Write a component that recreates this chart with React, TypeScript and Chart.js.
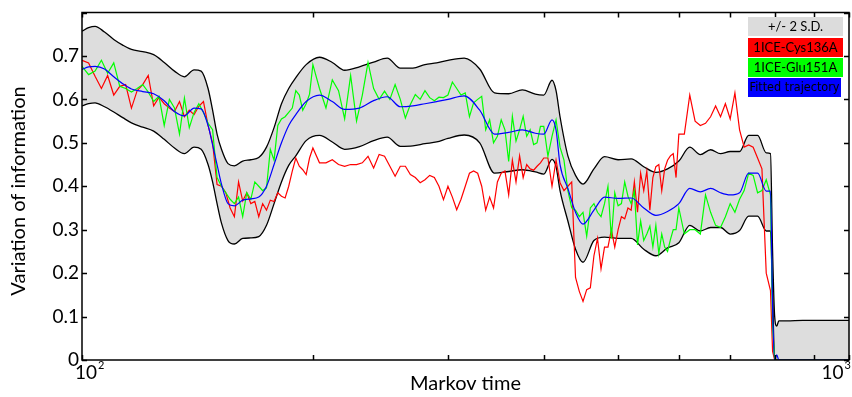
import React, { useEffect, useRef } from "react";
import { Chart, registerables } from "chart.js";

Chart.register(...registerables);

// Markov time grid of the two noisy mutant curves
const markovTime = [
  100, 102, 104, 106, 108, 110, 112, 114, 116, 118, 120, 122, 124, 126, 128, 130, 132, 134, 136, 138,
  140, 142, 144, 146, 148, 150, 152, 154, 156, 158, 160, 162, 164, 166, 168, 170, 172, 174, 176, 178,
  180, 182, 184, 186, 188, 190, 192, 194, 196, 198, 200,
  204, 208, 212, 216, 220, 224, 228, 232, 236, 240, 244, 248, 252, 256, 260, 264, 268, 272, 276, 280,
  284, 288, 292, 296, 300, 304, 308, 312, 316, 320, 324, 328, 332, 336, 340, 344, 348, 352, 356, 360,
  364, 368, 372, 376, 380, 384, 388, 392, 396, 400,
  405, 410, 415, 420, 425, 430, 435, 440, 445, 450, 455, 460, 465, 470, 475, 480, 485, 490, 495, 500,
  505, 510, 515, 520, 525, 530, 535, 540, 545, 550, 555, 560, 565, 570, 575, 580, 585, 590, 595, 600,
  610, 620, 630, 640, 650, 660, 670, 680, 690, 700, 710, 720, 730, 740, 750, 760, 770, 780, 790,
  795, 800, 810, 850, 900, 950, 1000,
];

const cys136a = [
  0.69, 0.684, 0.653, 0.625, 0.655, 0.61, 0.63, 0.634, 0.58, 0.62, 0.634, 0.655, 0.585, 0.605, 0.59, 0.58, 0.572, 0.595, 0.56, 0.575,
  0.565, 0.584, 0.595, 0.54, 0.5, 0.404, 0.4, 0.385, 0.35, 0.33, 0.41, 0.366, 0.385, 0.36, 0.365, 0.33, 0.36, 0.345, 0.368, 0.365,
  0.385, 0.377, 0.373, 0.4, 0.435, 0.465, 0.446, 0.438, 0.427, 0.465, 0.488,
  0.454, 0.454, 0.461, 0.45, 0.446, 0.45, 0.45, 0.454, 0.469, 0.442, 0.473, 0.469, 0.446, 0.423, 0.446, 0.446, 0.427, 0.42, 0.408, 0.415,
  0.425, 0.42, 0.4, 0.369, 0.4, 0.375, 0.346, 0.37, 0.4, 0.43, 0.435, 0.43, 0.4, 0.345, 0.375, 0.35, 0.41, 0.43, 0.435, 0.38,
  0.46, 0.41, 0.47, 0.42, 0.45, 0.44, 0.437, 0.446, 0.454, 0.465,
  0.465, 0.4, 0.46, 0.408, 0.39, 0.4, 0.41, 0.19, 0.158, 0.135, 0.162, 0.166, 0.24, 0.28, 0.21, 0.26, 0.26, 0.3, 0.26, 0.3,
  0.33, 0.325, 0.35, 0.345, 0.41, 0.34, 0.43, 0.39, 0.435, 0.345, 0.42, 0.445, 0.45, 0.39, 0.44, 0.46, 0.47, 0.475, 0.42, 0.52,
  0.52, 0.61, 0.55, 0.54, 0.545, 0.56, 0.585, 0.56, 0.59, 0.555, 0.615, 0.53, 0.49, 0.495, 0.49, 0.465, 0.44, 0.2, 0.16,
  0.02, 0, 0, 0, 0, 0, 0,
];

const glu151a = [
  0.676, 0.657, 0.665, 0.69, 0.66, 0.684, 0.63, 0.625, 0.617, 0.625, 0.634, 0.617, 0.595, 0.607, 0.54, 0.6, 0.58, 0.52, 0.603, 0.535,
  0.57, 0.59, 0.57, 0.545, 0.53, 0.42, 0.4, 0.385, 0.37, 0.36, 0.375, 0.33, 0.385, 0.37, 0.41, 0.4, 0.39, 0.396, 0.485, 0.46,
  0.54, 0.555, 0.56, 0.57, 0.58, 0.62, 0.61, 0.575, 0.59, 0.612, 0.68,
  0.625, 0.58, 0.645, 0.62, 0.555, 0.655, 0.55, 0.61, 0.685, 0.625, 0.6, 0.619, 0.6, 0.634, 0.6, 0.557, 0.588, 0.611, 0.6, 0.62,
  0.604, 0.597, 0.605, 0.604, 0.61, 0.64, 0.625, 0.61, 0.615, 0.56, 0.592, 0.6, 0.607, 0.53, 0.553, 0.5, 0.515, 0.553, 0.53, 0.457,
  0.561, 0.504, 0.53, 0.561, 0.515, 0.53, 0.496, 0.5, 0.538, 0.538,
  0.469, 0.515, 0.553, 0.49, 0.46, 0.39, 0.35, 0.345, 0.33, 0.34, 0.285, 0.35, 0.36, 0.34, 0.33, 0.36, 0.4, 0.28, 0.385, 0.355,
  0.36, 0.41, 0.377, 0.36, 0.39, 0.265, 0.32, 0.275, 0.29, 0.308, 0.26, 0.31, 0.245, 0.29, 0.26, 0.25, 0.277, 0.3, 0.3, 0.35,
  0.29, 0.3, 0.3, 0.29, 0.38, 0.34, 0.31, 0.305, 0.33, 0.36, 0.34, 0.37, 0.39, 0.43, 0.425, 0.385, 0.39, 0.415, 0.38,
  0.08, 0, 0, 0, 0, 0, 0,
];

// Markov time grid of the fitted trajectory and its +/- 2 S.D. band
const bandTime = [
  100, 102, 104, 107, 110, 113, 116, 120, 124, 128, 132, 136, 140, 143, 146, 148, 150, 152, 155, 158,
  162, 166, 170, 174, 178, 182, 186, 190, 196, 204, 212, 220, 230, 240, 250, 260, 270, 280, 290, 300,
  315, 330, 345, 360, 375, 390, 400, 410, 415, 420, 430, 440, 450, 465, 480, 500, 520, 540, 560, 580,
  600, 620, 640, 660, 680, 700, 720, 740, 760, 780, 790, 795, 800, 805, 810, 830, 870, 920, 1000,
];

const bandUpper = [
  0.757, 0.765, 0.768, 0.755, 0.738, 0.725, 0.715, 0.71, 0.703, 0.685, 0.665, 0.652, 0.668, 0.665, 0.625, 0.575, 0.52, 0.485, 0.452, 0.447,
  0.458, 0.461, 0.466, 0.49, 0.535, 0.59, 0.625, 0.65, 0.68, 0.697, 0.685, 0.667, 0.675, 0.686, 0.695, 0.672, 0.672, 0.68, 0.684, 0.69,
  0.695, 0.67, 0.615, 0.613, 0.622, 0.612, 0.61, 0.644, 0.62, 0.56, 0.47, 0.425, 0.405, 0.44, 0.468, 0.461, 0.463, 0.445, 0.432, 0.44,
  0.458, 0.49, 0.473, 0.484, 0.475, 0.48, 0.48, 0.517, 0.517, 0.477, 0.475, 0.25, 0.1, 0.078, 0.09, 0.09, 0.091, 0.091, 0.091,
];

const bandLower = [
  0.585, 0.59, 0.592, 0.583, 0.571, 0.558, 0.546, 0.536, 0.527, 0.508, 0.488, 0.475, 0.49, 0.485, 0.45, 0.41, 0.36, 0.315, 0.275, 0.267,
  0.28, 0.281, 0.284, 0.31, 0.36, 0.41, 0.448, 0.47, 0.505, 0.517, 0.502, 0.485, 0.491, 0.505, 0.513, 0.492, 0.493, 0.498, 0.502, 0.51,
  0.518, 0.5, 0.43, 0.434, 0.438, 0.433, 0.428, 0.462, 0.445, 0.39, 0.32, 0.255, 0.225, 0.275, 0.283, 0.28, 0.28, 0.255, 0.24, 0.258,
  0.27, 0.31, 0.297, 0.305, 0.305, 0.29, 0.298, 0.331, 0.331, 0.297, 0.297, 0.15, 0, 0, 0, 0, 0, 0, 0,
];

const fitted = [
  0.669, 0.675, 0.676, 0.67, 0.652, 0.636, 0.624, 0.618, 0.613, 0.597, 0.572, 0.562, 0.58, 0.578, 0.54, 0.495, 0.45, 0.405, 0.36, 0.355,
  0.368, 0.371, 0.375, 0.4, 0.45, 0.5, 0.54, 0.565, 0.595, 0.61, 0.595, 0.577, 0.58, 0.597, 0.606, 0.583, 0.585, 0.59, 0.595, 0.6,
  0.608, 0.575, 0.52, 0.524, 0.53, 0.522, 0.52, 0.553, 0.53, 0.45, 0.395, 0.34, 0.313, 0.345, 0.375, 0.372, 0.373, 0.35, 0.333, 0.342,
  0.36, 0.395, 0.387, 0.395, 0.385, 0.38, 0.385, 0.43, 0.43, 0.389, 0.389, 0.12, 0, 0.012, 0, 0, 0, 0, 0,
];

const yTickValues = [0, 0.1, 0.2, 0.3, 0.4, 0.5, 0.6, 0.7, 0.8];
const yTickLabels = ["0", "0.1", "0.2", "0.3", "0.4", "0.5", "0.6", "0.7"];
const xTickValues = [100, 200, 300, 400, 500, 600, 700, 800, 900, 1000];
const xTickLabels = [
  { base: "10", exp: "2", value: 100 },
  { base: "10", exp: "3", value: 1000 },
];
const yTitle = "Variation of information";
const legendLabels = ["+/- 2 S.D.", "1ICE-Cys136A", "1ICE-Glu151A", "Fitted trajectory"];

const FONT = "Lato, 'Open Sans', sans-serif";

const boxPlugin = {
  id: "matlabBox",
  afterDraw(chart: any) {
    const { ctx, chartArea } = chart;
    const xs = chart.scales.x;
    const ys = chart.scales.y;
    const { left, right, top, bottom } = chartArea;
    ctx.save();
    ctx.strokeStyle = "#000";
    ctx.lineWidth = 1.5;
    ctx.strokeRect(left, top, right - left, bottom - top);
    const tl = 5;
    ctx.beginPath();
    for (const v of yTickValues) {
      const y = Math.round(ys.getPixelForValue(v)) + 0.5;
      ctx.moveTo(left, y);
      ctx.lineTo(left + tl, y);
      ctx.moveTo(right, y);
      ctx.lineTo(right - tl, y);
    }
    for (const t of xTickValues) {
      const x = Math.round(xs.getPixelForValue(t)) + 0.5;
      ctx.moveTo(x, bottom);
      ctx.lineTo(x, bottom - tl);
      ctx.moveTo(x, top);
      ctx.lineTo(x, top + tl);
    }
    ctx.stroke();

    // y axis title
    ctx.fillStyle = "#000";
    ctx.save();
    ctx.translate(19, 191);
    ctx.rotate(-Math.PI / 2);
    ctx.textAlign = "center";
    ctx.textBaseline = "middle";
    ctx.font = `20px ${FONT}`;
    ctx.fillText(yTitle, 0, 0);
    ctx.restore();

    // x tick labels with superscript exponents
    ctx.textBaseline = "alphabetic";
    ctx.textAlign = "left";
    xTickLabels.forEach((lab, i) => {
      const px = xs.getPixelForValue(lab.value);
      ctx.font = `19px ${FONT}`;
      const wb = ctx.measureText(lab.base).width;
      ctx.font = `11px ${FONT}`;
      const we = ctx.measureText(lab.exp).width;
      let x0 = px - 7;
      if (i === xTickLabels.length - 1) x0 = 851 - wb - we - 1;
      ctx.font = `19px ${FONT}`;
      ctx.fillText(lab.base, x0, 379);
      ctx.font = `11px ${FONT}`;
      ctx.fillText(lab.exp, x0 + wb + 1, 369);
    });

    // legend
    const rows = [
      { fill: "#dcdcdc", w: 95 },
      { fill: "#ff0000", w: 95 },
      { fill: "#00ff00", w: 95 },
      { fill: "#0000ff", w: 93 },
    ];
    const tops = [17, 38, 58, 78];
    rows.forEach((r, i) => {
      ctx.fillStyle = r.fill;
      ctx.fillRect(748, tops[i], r.w, 19);
      ctx.fillStyle = "#000";
      ctx.textAlign = "center";
      ctx.textBaseline = "middle";
      ctx.font = i === 3 ? "13px 'DejaVu Sans', sans-serif" : `13px ${FONT}`;
      ctx.fillText(legendLabels[i], 748 + r.w / 2, tops[i] + 10, 90);
    });
    ctx.restore();
  },
};

export default function App() {
  const ref = useRef<HTMLCanvasElement | null>(null);
  useEffect(() => {
    if (!ref.current) return;
    const pts = (xs: number[], ys: number[]) => xs.map((x, i) => ({ x, y: ys[i] }));
    const chart = new Chart(ref.current, {
      type: "line",
      data: {
        datasets: [
          {
            label: "upper",
            data: pts(bandTime, bandUpper),
            borderColor: "#000",
            borderWidth: 1.3,
            backgroundColor: "#dddddd",
            fill: "+1",
            pointRadius: 0,
            cubicInterpolationMode: "monotone",
            order: 4,
          },
          {
            label: "lower",
            data: pts(bandTime, bandLower),
            borderColor: "#000",
            borderWidth: 1.3,
            fill: false,
            pointRadius: 0,
            cubicInterpolationMode: "monotone",
            order: 3,
          },
          {
            label: legendLabels[1],
            data: pts(markovTime, cys136a),
            borderColor: "#ff0000",
            borderWidth: 1.2,
            fill: false,
            pointRadius: 0,
            tension: 0,
            order: 2,
          },
          {
            label: legendLabels[2],
            data: pts(markovTime, glu151a),
            borderColor: "#00ff00",
            borderWidth: 1.2,
            fill: false,
            pointRadius: 0,
            tension: 0,
            order: 1,
          },
          {
            label: legendLabels[3],
            data: pts(bandTime, fitted),
            borderColor: "#0000ff",
            borderWidth: 1.2,
            fill: false,
            pointRadius: 0,
            cubicInterpolationMode: "monotone",
            order: 0,
          },
        ],
      },
      options: {
        responsive: false,
        animation: false,
        layout: { padding: { left: 0, right: 3, top: 12, bottom: 0 } },
        plugins: { legend: { display: false }, tooltip: { enabled: false } },
        scales: {
          x: {
            type: "logarithmic",
            min: 100,
            max: 1000,
            grid: { display: false, drawTicks: false },
            border: { display: false },
            ticks: { display: false },
            title: {
              display: true,
              text: "Markov time",
              color: "#000",
              font: { family: FONT, size: 20 },
              padding: { top: 0, bottom: 1 },
            },
            afterFit: (s: any) => {
              s.height = 37;
            },
          },
          y: {
            type: "linear",
            min: 0,
            max: 0.8,
            grid: { display: false, drawTicks: false },
            border: { display: false },
            afterBuildTicks: (s: any) => {
              s.ticks = yTickLabels.map((_, i) => ({ value: yTickValues[i] }));
            },
            ticks: {
              color: "#000",
              padding: 3,
              font: { family: FONT, size: 19, lineHeight: 1 },
              callback: (_v: any, i: number) => yTickLabels[i],
            },
            title: { display: false },
            afterFit: (s: any) => {
              s.width = 82;
            },
          },
        },
      },
      plugins: [boxPlugin],
    } as any);
    return () => chart.destroy();
  }, []);
  return (
    <div style={{ position: "absolute", left: 0, top: 0, width: 852, height: 397 }}>
      <canvas ref={ref} width={852} height={397} style={{ width: 852, height: 397 }} />
    </div>
  );
}
